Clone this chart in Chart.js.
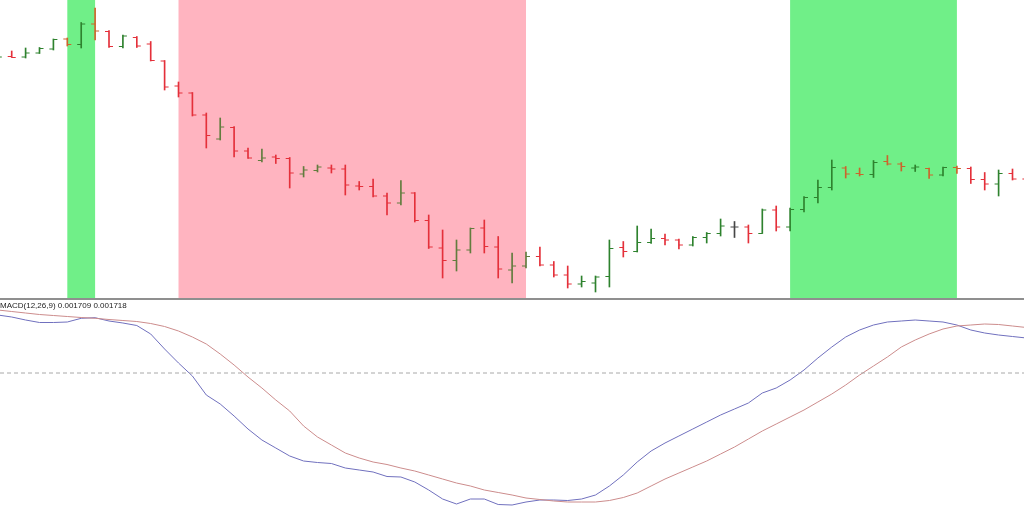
<!DOCTYPE html>
<html>
<head>
<meta charset="utf-8">
<script src="https://cdn.jsdelivr.net/npm/chart.js@4.4.1/dist/chart.umd.min.js"></script>
<style>
    body { margin: 0; background: #ffffff; }
    #wrap { position: relative; width: 1024px; height: 514px; overflow: hidden; }
    #price-container { position: absolute; left: 0; top: 0; width: 1024px; height: 298px; }
    #separator { position: absolute; left: 0; top: 298px; width: 1024px; height: 2px; background: #8f8f8f; }
    #macd-container { position: absolute; left: 0; top: 300px; width: 1024px; height: 214px; }
    #macd-label {
        position: absolute; left: 0; top: 301px;
        font-family: 'Liberation Sans', Arial, sans-serif; font-size: 8px; line-height: 10px;
        color: #222222; white-space: nowrap;
    }
</style>
</head>
<body>
<div id="wrap">
    <div id="price-container"><canvas></canvas></div>
    <div id="separator"></div>
    <div id="macd-container"><canvas></canvas></div>
    <div id="macd-label">MACD(12,26,9) 0.001709 0.001718</div>
</div>
<script>
// one entry per bar, first bar is only partly visible at the left edge
const openPrices = [
    1.1142, 1.11435, 1.1143, 1.1147, 1.1151, 1.1161, 1.11555, 1.1176, 1.11685, 1.11535,
    1.11625, 1.1156, 1.1139, 1.1114, 1.1107, 1.1085, 1.1061, 1.10725, 1.1049, 1.10395,
    1.1043, 1.10415, 1.1026, 1.10295, 1.1032, 1.1031, 1.1014, 1.10135, 1.1004, 1.0997,
    1.1007, 1.09795, 1.0952, 1.09395, 1.0950, 1.0972, 1.0953, 1.0930, 1.0934, 1.09435,
    1.0935, 1.0925, 1.0916, 1.0917, 1.09235, 1.09525, 1.09485, 1.09575, 1.09615, 1.0960,
    1.0955, 1.09625, 1.09665, 1.0973, 1.0973, 1.09665, 1.0990, 1.0973, 1.09905, 1.10025,
    1.10125, 1.1032, 1.10265, 1.10255, 1.10385, 1.1036, 1.1032, 1.10315, 1.1025, 1.10325,
    1.10315, 1.10205, 1.1016, 1.10265, 1.1021,
];
const highPrices = [
    1.1145, 1.1149, 1.1152, 1.11525, 1.1161, 1.1162, 1.11775, 1.1192, 1.11695, 1.1165,
    1.11635, 1.11585, 1.11395, 1.1118, 1.11075, 1.1087, 1.1082, 1.10735, 1.1052, 1.1051,
    1.1045, 1.10425, 1.10335, 1.1035, 1.1035, 1.1035, 1.10185, 1.1021, 1.1007, 1.10195,
    1.10075, 1.0985, 1.0970, 1.0960, 1.0972, 1.0980, 1.09635, 1.0947, 1.0948, 1.0953,
    1.09385, 1.0934, 1.0924, 1.0924, 1.0960, 1.09585, 1.0974, 1.0971, 1.0966, 1.0961,
    1.09635, 1.09675, 1.0981, 1.09785, 1.0975, 1.0991, 1.0994, 1.0992, 1.10035, 1.1020,
    1.1040, 1.10335, 1.1032, 1.10395, 1.10445, 1.10375, 1.1035, 1.1032, 1.1033, 1.1034,
    1.1033, 1.10275, 1.1030, 1.1031, 1.1025,
];
const lowPrices = [
    1.1141, 1.11425, 1.1142, 1.11465, 1.1150, 1.1154, 1.1152, 1.1160, 1.11525, 1.1152,
    1.11525, 1.1139, 1.1110, 1.1103, 1.1084, 1.1052, 1.1060, 1.1043, 1.10415, 1.1038,
    1.10365, 1.1012, 1.1023, 1.1028, 1.1027, 1.1005, 1.1010, 1.1003, 1.0985, 1.0995,
    1.0978, 1.09515, 1.0922, 1.0929, 1.0947, 1.0947, 1.0922, 1.0917, 1.0932, 1.0934,
    1.0923, 1.0912, 1.0913, 1.0908, 1.0913, 1.0943, 1.0948, 1.09565, 1.0955, 1.0951,
    1.0954, 1.0957, 1.0964, 1.09625, 1.0957, 1.09665, 1.0969, 1.0969, 1.0988, 1.0997,
    1.1010, 1.1022, 1.1024, 1.10225, 1.1035, 1.1029, 1.10285, 1.10215, 1.1024, 1.10265,
    1.10165, 1.1010, 1.1004, 1.1020, 1.1018,
];
const closePrices = [
    1.1143, 1.11425, 1.1147, 1.11515, 1.11605, 1.11555, 1.1176, 1.1169, 1.11535, 1.1164,
    1.1154, 1.11395, 1.1113, 1.1107, 1.1085, 1.10645, 1.1073, 1.1049, 1.1042, 1.1042,
    1.10415, 1.1027, 1.1030, 1.1033, 1.1031, 1.1015, 1.10135, 1.1004, 1.0997, 1.1007,
    1.09795, 1.0953, 1.09395, 1.0950, 1.09715, 1.09535, 1.0931, 1.0934, 1.09435, 1.0935,
    1.0925, 1.0916, 1.09185, 1.0923, 1.09515, 1.09485, 1.09575, 1.09615, 1.0960, 1.0955,
    1.09625, 1.09665, 1.0974, 1.0973, 1.09665, 1.0990, 1.0973, 1.09905, 1.10025, 1.10125,
    1.10325, 1.1026, 1.10255, 1.10375, 1.1036, 1.10335, 1.1033, 1.1025, 1.10325, 1.10315,
    1.10205, 1.1016, 1.10265, 1.1021, 1.1020,
];

// MACD(12,26,9) main line and signal line, one value per bar
const macdMain = [
    0.00290, 0.00280, 0.00265, 0.002525, 0.002525, 0.00255, 0.002735, 0.002765, 0.00260, 0.00250,
    0.002375, 0.00195, 0.00120, 0.00050, -0.00015, -0.00110, -0.00155, -0.00215, -0.00280, -0.00335,
    -0.00375, -0.00415, -0.00440, -0.004475, -0.004525, -0.00475, -0.00485, -0.00495, -0.005175, -0.00520,
    -0.00545, -0.00585, -0.00630, -0.00655, -0.00630, -0.00630, -0.006575, -0.00660, -0.00645, -0.00635,
    -0.00635, -0.006375, -0.00630, -0.00610, -0.00565, -0.00510, -0.00445, -0.00390, -0.00350, -0.00315,
    -0.00280, -0.00245, -0.00210, -0.00180, -0.00150, -0.00100, -0.00075, -0.00035, 0.00015, 0.00075,
    0.00130, 0.00180, 0.00215, 0.00240, 0.00255, 0.00260, 0.00265, 0.00260, 0.00255, 0.00240,
    0.00215, 0.00200, 0.00190, 0.001825, 0.00175,
];
const macdSignal = [
    0.00315, 0.003075, 0.00300, 0.002925, 0.002875, 0.002825, 0.002775, 0.002735, 0.002675, 0.002625,
    0.002575, 0.002475, 0.002325, 0.00210, 0.00180, 0.00145, 0.00095, 0.00040, -0.00020, -0.00075,
    -0.00135, -0.00190, -0.00265, -0.00320, -0.00360, -0.00400, -0.00425, -0.00445, -0.004575, -0.00475,
    -0.00490, -0.00510, -0.00530, -0.00550, -0.00565, -0.00585, -0.005975, -0.00610, -0.00625, -0.006325,
    -0.00640, -0.00645, -0.00645, -0.00645, -0.006375, -0.006225, -0.00600, -0.00565, -0.00530, -0.00500,
    -0.00470, -0.00440, -0.00405, -0.00370, -0.00330, -0.00290, -0.00255, -0.00220, -0.00185, -0.00145,
    -0.00105, -0.00060, -0.00010, 0.00035, 0.00080, 0.00130, 0.00165, 0.00195, 0.00220, 0.00235,
    0.00240, 0.00245, 0.002425, 0.00235, 0.002275,
];

// highlighted zones, in bar numbers (bar 0 is the first full bar)
const bandStart = [4, 12, 56];
const bandEnd = [6, 37, 68];
const bandKind = ['up', 'down', 'up'];

const bandColors = { up: 'rgb(112, 239, 136)', down: 'rgb(255, 180, 192)' };
const barColors = {
    up: 'rgb(46, 130, 46)',
    down: 'rgb(228, 48, 58)',
    flat: 'rgb(70, 70, 70)',
    upOnDown: 'rgb(98, 124, 62)',
    downOnUp: 'rgb(204, 100, 44)',
};

const firstBar = -1;
const xMin = -0.842;
const xMax = 72.827;
const tickOffset = 0.144;

window.onload = function() {
    createPriceChart();
    createMacdChart();
}

function barNumber(i) {
    return i + firstBar;
}

function bandAt(bar) {
    for (let i = 0; i < bandStart.length; i++) {
        if (bar >= bandStart[i] && bar <= bandEnd[i]) {
            return bandKind[i];
        }
    }
    return undefined;
}

function colorForBar(i) {
    const open = openPrices[i];
    const close = closePrices[i];
    const band = bandAt(barNumber(i));

    if (close === open) {
        return barColors.flat;
    }
    if (close > open) {
        return band === 'down' ? barColors.upOnDown : barColors.up;
    }
    return band === 'up' ? barColors.downOnUp : barColors.down;
}

const bandPlugin = {
    id: 'bands',
    beforeDatasetsDraw(chart) {
        const { ctx, chartArea, scales } = chart;
        ctx.save();
        bandStart.forEach((start, i) => {
            const left = scales.x.getPixelForValue(start);
            const right = scales.x.getPixelForValue(bandEnd[i]);
            ctx.fillStyle = bandColors[bandKind[i]];
            ctx.fillRect(left, chartArea.top, right - left, chartArea.bottom - chartArea.top);
        });
        ctx.restore();
    },
};

function createPriceChart() {
    const canvas = document.querySelector('#price-container > canvas');
    const colors = openPrices.map((_, i) => colorForBar(i));

    const ranges = highPrices.map((high, i) => ({ x: barNumber(i), y: [lowPrices[i], high] }));
    const opens = openPrices.map((open, i) => ({ x: barNumber(i) - tickOffset, y: open }));
    const closes = closePrices.map((close, i) => ({ x: barNumber(i) + tickOffset, y: close }));

    new Chart(canvas, {
        type: 'bar',
        data: {
            datasets: [
                {
                    type: 'bar',
                    data: ranges,
                    backgroundColor: colors,
                    borderWidth: 0,
                    barThickness: 1,
                },
                {
                    type: 'line',
                    data: opens,
                    showLine: false,
                    pointStyle: 'line',
                    pointRadius: 2,
                    pointBorderWidth: 1,
                    pointBorderColor: colors,
                },
                {
                    type: 'line',
                    data: closes,
                    showLine: false,
                    pointStyle: 'line',
                    pointRadius: 2,
                    pointBorderWidth: 1,
                    pointBorderColor: colors,
                },
            ],
        },
        options: {
            animation: false,
            responsive: true,
            maintainAspectRatio: false,
            devicePixelRatio: 1,
            events: [],
            layout: { padding: 0, autoPadding: false },
            plugins: {
                legend: { display: false },
                tooltip: { enabled: false },
            },
            scales: {
                x: { type: 'linear', min: xMin, max: xMax, offset: false, display: false },
                y: { type: 'linear', min: 1.0902, max: 1.1200, display: false },
            },
        },
        plugins: [bandPlugin],
    });
}

function createMacdChart() {
    const canvas = document.querySelector('#macd-container > canvas');

    const main = macdMain.map((value, i) => ({ x: barNumber(i), y: value }));
    const signal = macdSignal.map((value, i) => ({ x: barNumber(i), y: value }));
    const level = [{ x: xMin, y: 0 }, { x: xMax, y: 0 }];

    new Chart(canvas, {
        type: 'line',
        data: {
            datasets: [
                {
                    data: level,
                    borderColor: 'rgb(168, 168, 168)',
                    borderWidth: 1,
                    borderDash: [4, 3],
                    pointRadius: 0,
                },
                {
                    data: signal,
                    borderColor: 'rgb(204, 140, 140)',
                    borderWidth: 1,
                    pointRadius: 0,
                    tension: 0,
                },
                {
                    data: main,
                    borderColor: 'rgb(112, 112, 190)',
                    borderWidth: 1,
                    pointRadius: 0,
                    tension: 0,
                },
            ],
        },
        options: {
            animation: false,
            responsive: true,
            maintainAspectRatio: false,
            devicePixelRatio: 1,
            events: [],
            layout: { padding: 0, autoPadding: false },
            plugins: {
                legend: { display: false },
                tooltip: { enabled: false },
            },
            scales: {
                x: { type: 'linear', min: xMin, max: xMax, display: false },
                y: { type: 'linear', min: -0.00705, max: 0.00365, display: false },
            },
        },
    });
}
</script>
</body>
</html>
